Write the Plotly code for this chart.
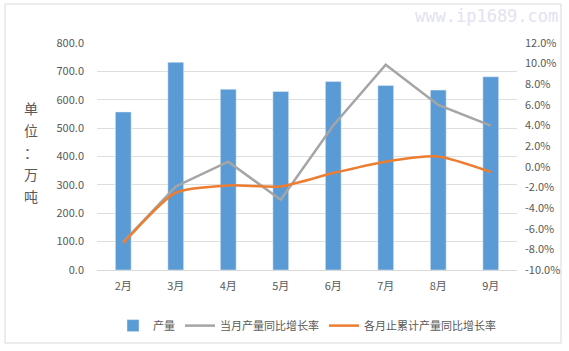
import plotly.graph_objects as go

months = ["2月", "3月", "4月", "5月", "6月", "7月", "8月", "9月"]
output = [557, 732, 637, 629, 664, 650, 634, 681]
monthly_yoy = [-7.3, -1.9, 0.5, -3.2, 4.0, 9.9, 6.0, 4.0]
cumulative_yoy = [-7.4, -2.5, -1.8, -1.9, -0.6, 0.5, 1.0, -0.5]
left_ticks = [0, 100, 200, 300, 400, 500, 600, 700, 800]
right_ticks = [-10, -8, -6, -4, -2, 0, 2, 4, 6, 8, 10, 12]
unit_chars = ["单", "位", "：", "万", "吨"]

font_family = "Noto Sans CJK SC, Microsoft YaHei, sans-serif"
tick_color = "#595959"

fig = go.Figure()
fig.add_trace(go.Bar(x=months, y=output, name="产量", marker_color="#5B9BD5",
                     width=0.3, yaxis="y"))
fig.add_trace(go.Scatter(x=months, y=monthly_yoy, name="当月产量同比增长率", mode="lines",
                         line=dict(color="#A5A5A5", width=2.5), yaxis="y2"))
fig.add_trace(go.Scatter(x=months, y=cumulative_yoy, name="各月止累计产量同比增长率", mode="lines",
                         line=dict(color="#ED7D31", width=2.5, shape="spline", smoothing=0.6),
                         yaxis="y2"))

fig.update_layout(
    width=569, height=351,
    margin=dict(l=97, r=52, t=43, b=81, autoexpand=False),
    paper_bgcolor="white", plot_bgcolor="white",
    font=dict(family=font_family, size=11, color=tick_color),
    showlegend=True,
    legend=dict(orientation="h", x=0.5, xanchor="center", y=-0.245, yanchor="middle",
                font=dict(size=11, color=tick_color), traceorder="normal",
                itemwidth=30, tracegroupgap=0),
    xaxis=dict(showgrid=False, showline=True, linecolor="#d9d9d9", ticks="",
               ticklabelstandoff=6, automargin=False,
               tickfont=dict(size=11, color=tick_color)),
    yaxis=dict(range=[0, 800], tickvals=left_ticks,
               ticktext=[f"{v:.1f}" for v in left_ticks], showgrid=True,
               gridcolor="#dedede", gridwidth=1, zeroline=False, ticks="",
               ticklabelstandoff=12, automargin=False,
               tickfont=dict(size=11, color=tick_color)),
    yaxis2=dict(range=[-10, 12], tickvals=right_ticks,
                ticktext=[f"{v:.1f}%" for v in right_ticks],
                overlaying="y", side="right", showgrid=False, zeroline=False,
                ticks="", ticklabelstandoff=7, automargin=False,
                tickfont=dict(size=11, color=tick_color)),
    bargap=0.7,
)

# unit label (vertical, one character per line)
for i, ch in enumerate(unit_chars):
    py = 108 + i * 22
    fig.add_annotation(text=ch, xref="paper", yref="paper",
                       x=(31 - 97) / 420, y=(270 - py) / 227, showarrow=False,
                       font=dict(size=14, color=tick_color, family=font_family),
                       xanchor="center", yanchor="middle")

# watermark
fig.add_annotation(text="www.ip1689.com", xref="paper", yref="paper",
                   x=(560 - 97) / 420, y=(270 - 16) / 227, showarrow=False,
                   font=dict(size=17, color="#e2e2f2", family="DejaVu Sans Mono"),
                   xanchor="right", yanchor="middle")

# outer border
fig.add_shape(type="rect", xref="paper", yref="paper",
              x0=(5 - 97) / 420, x1=(561 - 97) / 420,
              y0=(270 - 343) / 227, y1=(270 - 4) / 227,
              line=dict(color="#d9d9d9", width=1), fillcolor="rgba(0,0,0,0)", layer="below")

fig.write_html("out.html")
